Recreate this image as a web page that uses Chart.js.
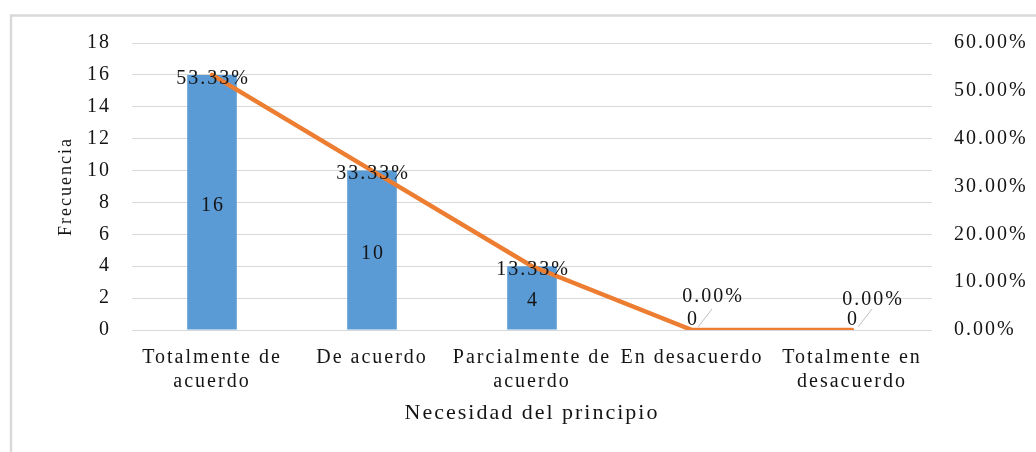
<!DOCTYPE html>
<html><head><meta charset="utf-8">
<script src="https://cdn.jsdelivr.net/npm/chart.js@4.4.0/dist/chart.umd.min.js"></script>
<style>html,body{margin:0;padding:0;background:#fff;} #wrap{width:1036px;height:452px;position:relative;}</style>
</head><body><div id="wrap"><canvas id="c"></canvas></div>
<script>
const categories = [["Totalmente de","acuerdo"],"De acuerdo",["Parcialmente de","acuerdo"],"En desacuerdo",["Totalmente en","desacuerdo"]];
const frecuencia = [16,10,4,0,0];
const porcentaje = [53.33,33.33,13.33,0.00,0.00];
const freqTicks = [0,2,4,6,8,10,12,14,16,18];
const pctTicks = [0,10,20,30,40,50,60];
const xTitle = "Necesidad del principio";
const yTitle = "Frecuencia";

const FAM = '"Liberation Serif","Times New Roman",serif';
const TXT = '#141414';

const spacing = {
  id:'spacing',
  beforeInit(c){ c.ctx.letterSpacing='2px'; },
  beforeUpdate(c){ c.ctx.letterSpacing='2px'; },
  beforeDraw(c){
    const ctx=c.ctx; ctx.letterSpacing='2px';
    ctx.save();
    ctx.strokeStyle='#D9D9D9'; ctx.lineWidth=2.5;
    ctx.strokeRect(11,15.5,1200,700);
    ctx.restore();
  }
};

const labels = {
  id:'labels',
  afterDatasetsDraw(c){
    const ctx=c.ctx;
    ctx.save();
    ctx.letterSpacing='2px';
    ctx.font='20px '+FAM;
    ctx.fillStyle=TXT;
    ctx.textAlign='center'; ctx.textBaseline='middle';
    const bm=c.getDatasetMeta(0), lm=c.getDatasetMeta(1);
    const base=c.scales.y.getPixelForValue(0);
    bm.data.forEach((b,i)=>{
      const v=frecuencia[i];
      if(v>0){ ctx.fillText(String(v), b.x+1, (b.y+base)/2+3); }
      else {
        ctx.fillText(String(v), b.x+1, base-10);
        ctx.save(); ctx.strokeStyle='#BFBFBF'; ctx.lineWidth=1;
        ctx.beginPath(); ctx.moveTo(b.x+6,base-3); ctx.lineTo(b.x+20,base-21); ctx.stroke(); ctx.restore();
      }
    });
    lm.data.forEach((p,i)=>{
      const t=porcentaje[i].toFixed(2)+'%';
      if(porcentaje[i]>0) ctx.fillText(t, p.x+1, p.y+3.5);
      else ctx.fillText(t, p.x+21, p.y-33 + (i===4?3:0));
    });
    ctx.restore();
  }
};

new Chart(document.getElementById('c'),{
  data:{
    labels:categories,
    datasets:[
      {type:'bar',data:frecuencia,backgroundColor:'#5B9BD5',barPercentage:0.31,categoryPercentage:1,yAxisID:'y',order:1},
      {type:'line',data:porcentaje,borderColor:'#ED7D31',borderWidth:4.5,pointRadius:0,tension:0,yAxisID:'y1',order:0,borderCapStyle:'round'}
    ]
  },
  options:{
    responsive:true,maintainAspectRatio:false,animation:false,
    layout:{padding:{top:43,left:0,right:0,bottom:0}},
    plugins:{legend:{display:false},tooltip:{enabled:false}},
    scales:{
      x:{
        grid:{display:false},border:{display:false},
        ticks:{color:TXT,font:{family:FAM,size:20},padding:8,maxRotation:0,minRotation:0,autoSkip:false},
        title:{display:true,text:xTitle,color:TXT,font:{family:FAM,size:22},padding:{top:0,bottom:26}},
        afterFit(s){s.height=122;}
      },
      y:{
        position:'left',min:0,max:18,
        afterBuildTicks(s){s.ticks=freqTicks.map(v=>({value:v}));},
        grid:{color:'#D9D9D9',lineWidth:1,drawTicks:false},border:{display:false},
        ticks:{color:TXT,font:{family:FAM,size:20},padding:21},
        title:{display:true,text:yTitle,color:TXT,font:{family:FAM,size:18},padding:{top:55,bottom:0}},
        afterFit(s){s.width=132;}
      },
      y1:{
        position:'right',min:0,max:60,
        afterBuildTicks(s){s.ticks=pctTicks.map(v=>({value:v}));},
        grid:{display:false,drawTicks:false},border:{display:false},
        ticks:{color:TXT,font:{family:FAM,size:20},padding:22,callback:v=>Number(v).toFixed(2)+'%'},
        afterFit(s){s.width=104;}
      }
    }
  },
  plugins:[spacing,labels]
});
</script></body></html>
